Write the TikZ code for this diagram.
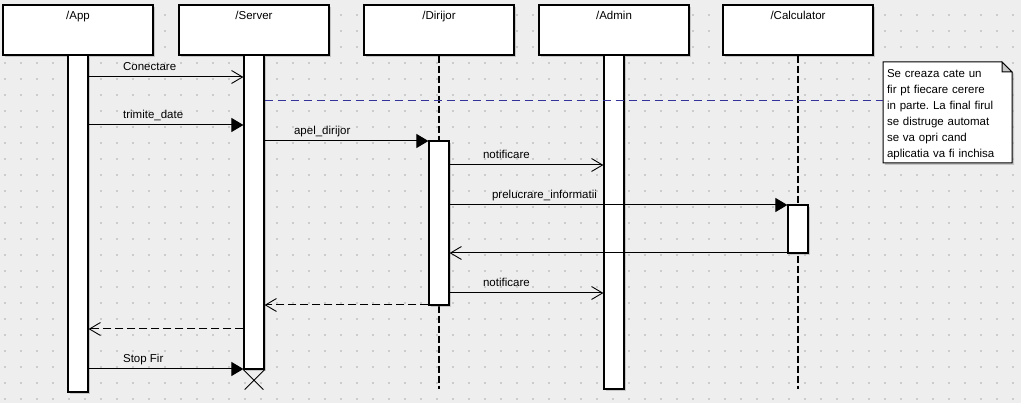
\documentclass[tikz,border=0pt]{standalone}
\usepackage{fontspec}
\setmainfont{Liberation Sans}
\usetikzlibrary{arrows.meta,shadows}
\definecolor{bggray}{RGB}{238,238,238}
\definecolor{dotgray}{RGB}{204,204,204}
\definecolor{notenavy}{RGB}{51,51,153}
\definecolor{foldgray}{RGB}{200,200,200}
\frenchspacing

\begin{document}
\begin{tikzpicture}[x=1pt,y=-1pt,
    font=\fontsize{11.5}{16}\selectfont,
    shade/.style={drop shadow={shadow xshift=2pt,shadow yshift=-2pt,fill=black!45,opacity=.4}},
    headbox/.style={draw,line width=1.2pt,fill=white,minimum width=150pt,minimum height=50pt,inner sep=0pt,shade},
    headlbl/.style={anchor=north,yshift=-3pt},
    actbar/.style={draw,line width=1.2pt,fill=white,minimum width=20pt,inner sep=0pt,shade},
    lifeline/.style={line width=1.1pt,dash pattern=on 7pt off 3pt},
    call/.style={line width=1pt,-{Triangle[length=12pt,width=14pt]}},
    signal/.style={line width=1pt,-{Straight Barb[length=11pt,width=13pt,line width=.9pt]}},
    reply/.style={signal,dash pattern=on 8pt off 4pt},
    notelink/.style={notenavy,line width=1pt,dash pattern=on 8pt off 5pt},
    msglbl/.style={pos=0,anchor=base west,inner sep=0pt,yshift=6pt}]

    % background and the grid of dots
    \fill[bggray] (0,0) rectangle (1021,403);
    \foreach \i in {0,...,63}
        \foreach \j in {0,...,24}
            \fill[dotgray] (4+16*\i,14+16*\j) rectangle ++(2,2);

    % the heads
    \node[headbox,label={[headlbl]north:/App}] (app) at (78,30) {};
    \node[headbox,label={[headlbl]north:/Server}] (server) at (254,30) {};
    \node[headbox,label={[headlbl]north:/Dirijor}] (dirijor) at (439,30) {};
    \node[headbox,label={[headlbl]north:/Admin}] (admin) at (614,30) {};
    \node[headbox,label={[headlbl]north:/Calculator}] (calculator) at (798,30) {};

    % dashed lifelines
    \coordinate (dirijorend) at (439,389);
    \coordinate (calcend) at (798,389);
    \draw[lifeline] (dirijor.south) -- (dirijorend);
    \draw[lifeline] (calculator.south) -- (calcend);

    % activation bars
    \node[actbar,minimum height=337pt] (appbar) at (78,223.5) {};
    \node[actbar,minimum height=314pt] (serverbar) at (254,212) {};
    \node[actbar,minimum height=164pt] (dirbar) at (439,223) {};
    \node[actbar,minimum height=334pt] (adminbar) at (614,222) {};
    \node[actbar,minimum height=48pt] (calcbar) at (798,229) {};

    % rows of the messages
    \coordinate (conectare) at (0,77);
    \coordinate (noterow) at (0,101);
    \coordinate (trimite) at (0,125);
    \coordinate (apel) at (0,141);
    \coordinate (notif1) at (0,165);
    \coordinate (prelucrare) at (0,205);
    \coordinate (raspuns) at (0,253);
    \coordinate (notif2) at (0,293);
    \coordinate (retdir) at (0,305);
    \coordinate (retsrv) at (0,329);
    \coordinate (stop) at (0,369);

    % messages
    \draw[signal] (appbar.east |- conectare) -- (serverbar.west |- conectare) node[msglbl,xshift=34pt] {Conectare};
    \draw[call] (appbar.east |- trimite) -- (serverbar.west |- trimite) node[msglbl,xshift=34pt] {trimite\_date};
    \draw[call] (serverbar.east |- apel) -- (dirbar.west |- apel) node[msglbl,xshift=29pt] {apel\_dirijor};
    \draw[signal] (dirbar.east |- notif1) -- (adminbar.west |- notif1) node[msglbl,xshift=33pt] {notificare};
    \draw[call] (dirbar.east |- prelucrare) -- (calcbar.west |- prelucrare) node[msglbl,xshift=42pt] {prelucrare\_informatii};
    \draw[signal] (calcbar.west |- raspuns) -- (dirbar.east |- raspuns);
    \draw[signal] (dirbar.east |- notif2) -- (adminbar.west |- notif2) node[msglbl,xshift=33pt] {notificare};
    \draw[reply] (dirbar.west |- retdir) -- (serverbar.east |- retdir);
    \draw[reply] (serverbar.west |- retsrv) -- (appbar.east |- retsrv);
    \draw[call] (appbar.east |- stop) -- (serverbar.west |- stop) node[msglbl,xshift=34pt] {Stop Fir};

    % the server thread ends
    \draw[line width=.8pt] (serverbar.south west) -- ++(20,20) (serverbar.south east) -- ++(-20,20);

    % note
    \draw[fill=white,line width=1pt,shade] (883,62) -- (1002,62) -- (1012,72) -- (1012,163) -- (883,163) -- cycle;
    \draw[fill=foldgray,line width=1pt] (1002,62) -- (1002,72) -- (1012,72) -- cycle;
    \node[minimum width=129pt,minimum height=101pt,text width=121pt,align=left,inner sep=4pt,yshift=-2pt] (note) at (947.5,112.5)
        {Se creaza cate un\\fir pt fiecare cerere\\in parte. La final firul\\se distruge automat\\se va opri cand\\aplicatia va fi inchisa};
    \draw[notelink] (serverbar.east |- noterow) -- (note.west |- noterow);
\end{tikzpicture}
\end{document}
